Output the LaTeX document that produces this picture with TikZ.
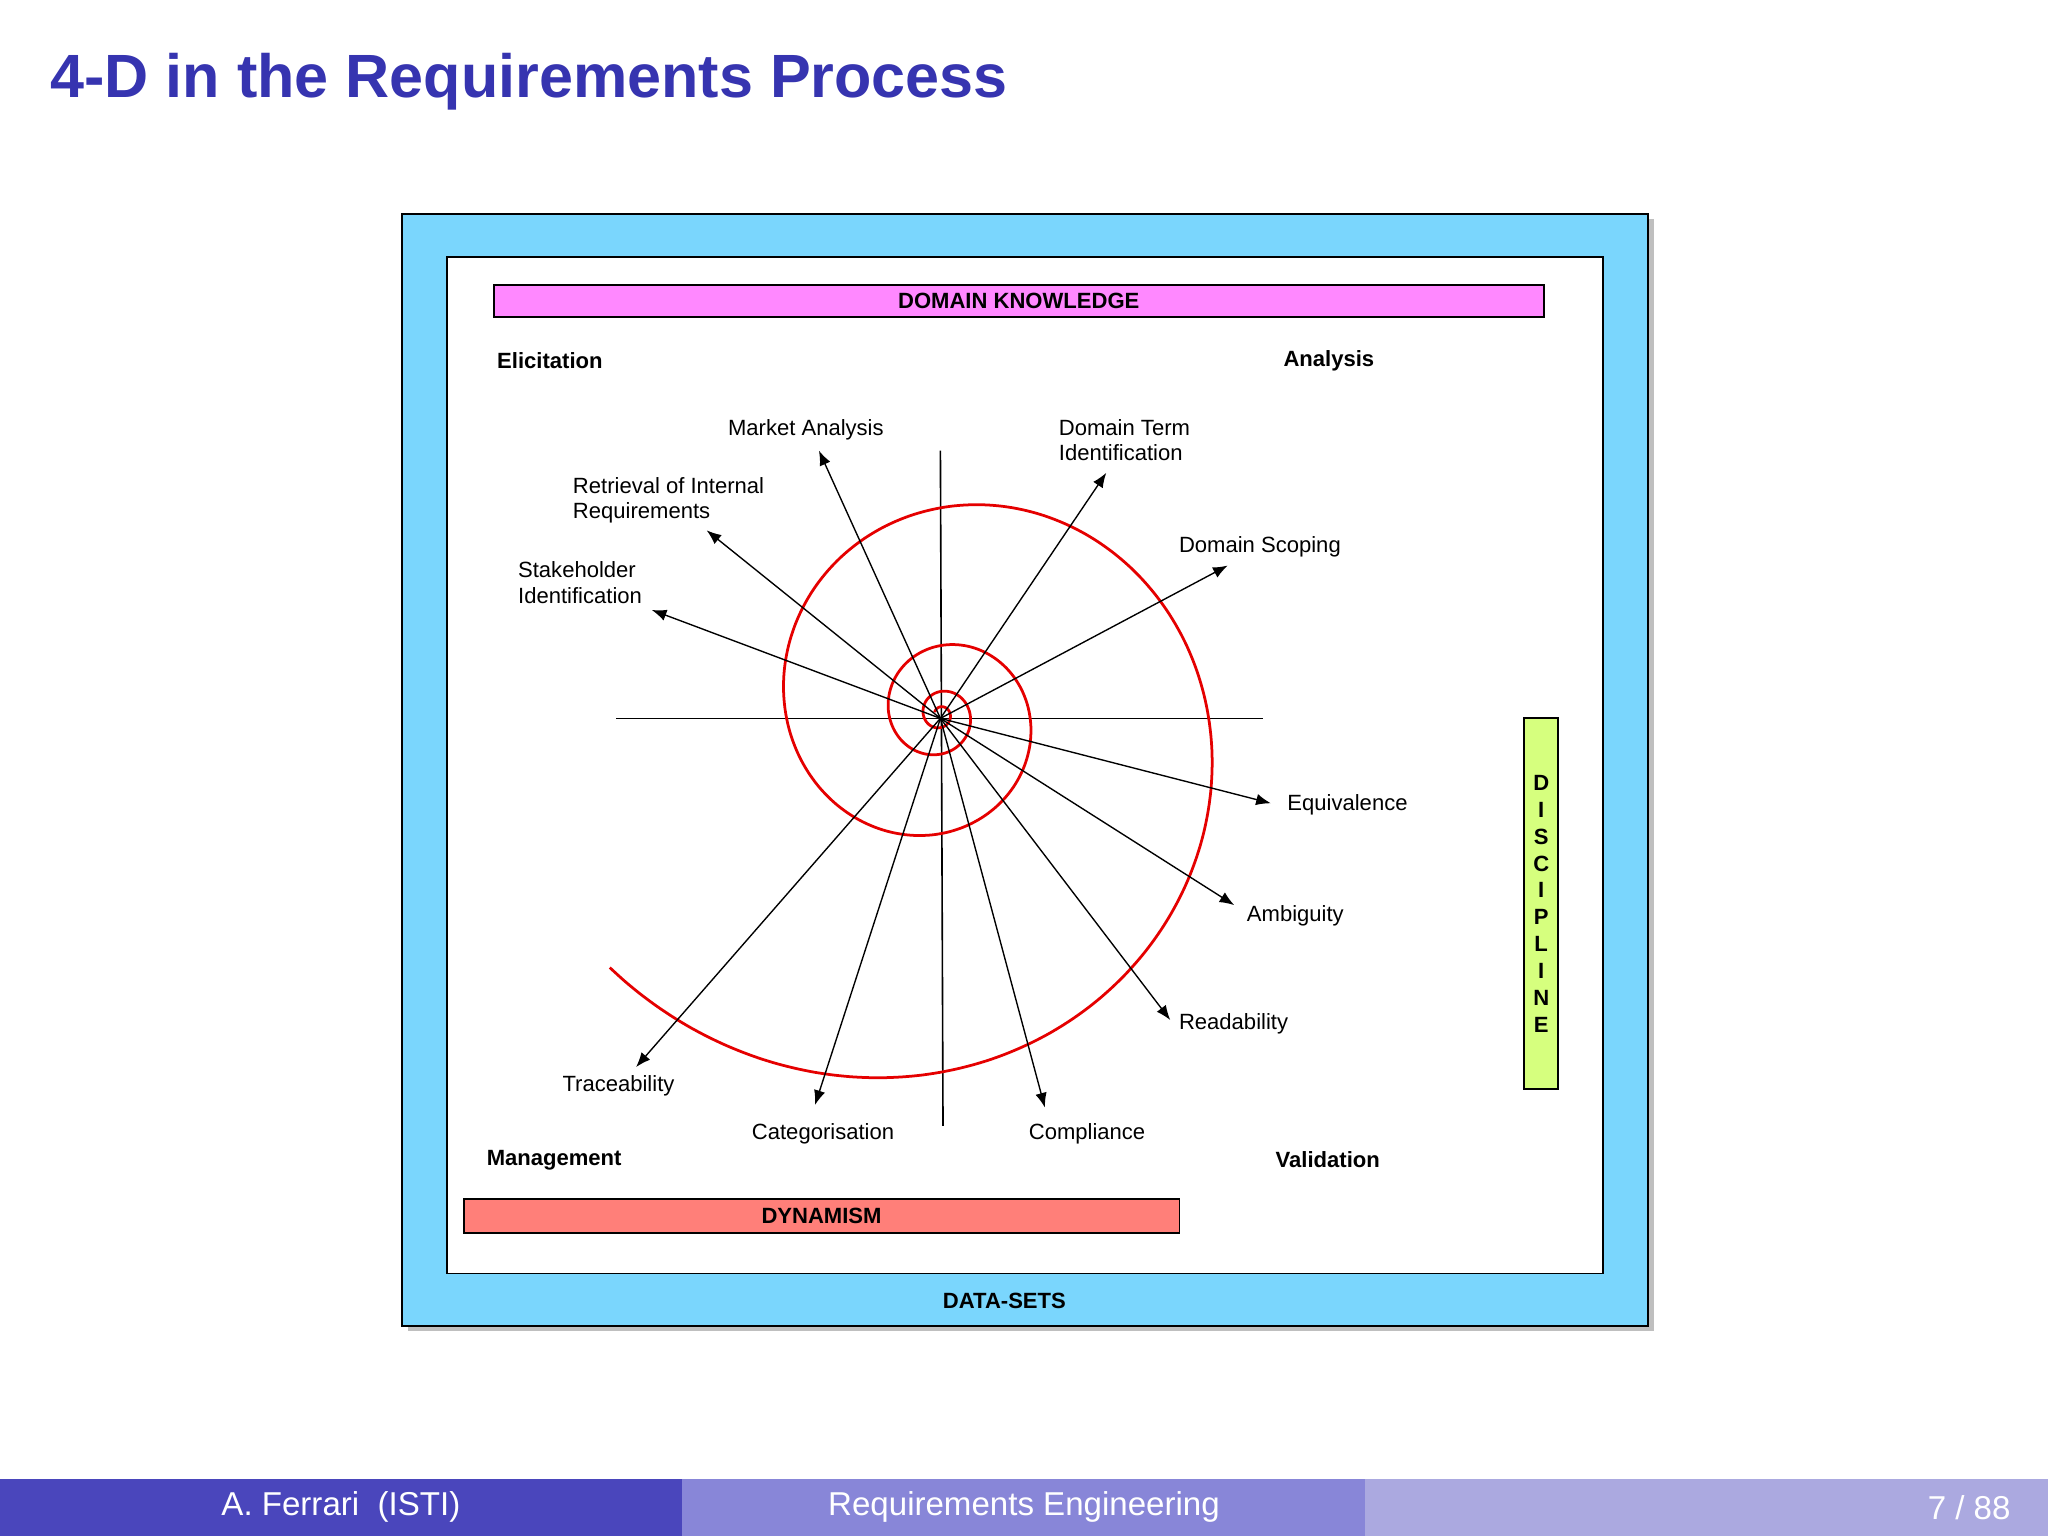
\documentclass[tikz,border=0pt]{standalone}
\usepackage{fontspec}
\setmainfont{Liberation Sans}
\usetikzlibrary{arrows.meta,shadows}
\definecolor{ttl}{HTML}{3634B0}
\definecolor{skyb}{HTML}{7AD6FD}
\definecolor{pinkb}{HTML}{FF88FF}
\definecolor{redb}{HTML}{FF7F79}
\definecolor{grnb}{HTML}{D6FF7E}
\definecolor{f1}{HTML}{4A46BC}
\definecolor{f2}{HTML}{8886D8}
\definecolor{f3}{HTML}{ABA9E0}
\tikzset{
 lbl/.style={font=\fontsize{4.8}{5.6}\selectfont, inner sep=0pt},
 blbl/.style={font=\fontsize{4.8}{5.6}\selectfont\bfseries, inner sep=0pt},
 arr/.style={-{Latex[length=3.2pt,width=2.5pt]}, line width=0.3pt},
 foot/.style={text=white,font=\fontsize{7.2}{8}\selectfont, inner sep=0pt}
}
\begin{document}
\begin{tikzpicture}[x=0.01cm,y=-0.01cm]
\useasboundingbox (0,0) rectangle (1568,1176);
\fill[white] (0,0) rectangle (1568,1176);
\node[anchor=base west,text=ttl,font=\fontsize{13.3}{15}\selectfont\bfseries,inner sep=0pt] (title) at (38,75) {4-D in the Requirements Process};
% boxes
\fill[black!25] (312,168) rectangle (1266,1019);
\draw[fill=skyb,line width=0.4pt] (308,164) rectangle (1262,1015);
\draw[fill=white,line width=0.4pt] (342,197) rectangle (1227,975);
\draw[fill=pinkb,line width=0.4pt] (378,218) rectangle node[blbl] (dk) {DOMAIN KNOWLEDGE} (1182,243);
\draw[fill=redb,line width=0.4pt] (355,918) rectangle node[blbl] (dy) {DYNAMISM} (903,944);
\draw[fill=grnb,line width=0.4pt] (1167,550) rectangle (1193,834);
\node[blbl,align=center,font=\fontsize{4.8}{5.85}\selectfont\bfseries] (dis) at (1180,692) {D\\I\\S\\C\\I\\P\\L\\I\\N\\E};
\node[blbl] (ds) at (769,996) {DATA-SETS};
\node[blbl,anchor=west] (el) at (380,276) {Elicitation};
\node[blbl,anchor=west] (an) at (982,276) {Analysis};
\node[blbl,anchor=west] (mg) at (372,888) {Management};
\node[blbl,anchor=west] (va) at (976,888) {Validation};
% axes
\coordinate (c) at (720,550);
\coordinate (hl) at (472,550); \coordinate (hr) at (967,550);
\coordinate (vt) at (720,345); \coordinate (vb) at (722,862);
\draw[line width=0.35pt] (hl) -- (hr);
\draw[line width=0.35pt] (vt) -- (vb);
% spiral
\draw[red!90!black,line width=0.6pt] plot[domain=217:1600,samples=500,smooth]
 ({720+317*exp(-0.00305*(\x-217))*cos(\x)},{547-322*exp(-0.00305*(\x-217))*sin(\x)});
% arrows
\foreach \n/\p in {ma/{627,345},dt/{847,362},ri/{541,406},si/{499,467},dsc/{940,433},eq/{973,615},am/{945,693},rd/{896,781},co/{800,848},ca/{624,846},tr/{487,817}}{
 \coordinate (t\n) at (\p);
 \draw[arr] (c) -- (t\n);
}
\node[lbl] (lma) at (617,329) {Market Analysis};
\node[lbl,anchor=west,align=left] (ldt) at (810,337) {Domain Term\\Identification};
\node[lbl,anchor=west,align=left] (lri) at (438,383) {Retrieval of Internal\\Requirements};
\node[lbl,anchor=west,align=left] (lsi) at (396,446) {Stakeholder\\Identification};
\node[lbl,anchor=west] (lds) at (902,419) {Domain Scoping};
\node[lbl,anchor=west] (leq) at (985,616) {Equivalence};
\node[lbl,anchor=west] (lam) at (954,701) {Ambiguity};
\node[lbl,anchor=west] (lrd) at (902,784) {Readability};
\node[lbl,anchor=west] (lco) at (787,868) {Compliance};
\node[lbl,anchor=west] (lca) at (575,868) {Categorisation};
\node[lbl,anchor=west] (ltr) at (430,831) {Traceability};
% footer
\fill[f1] (0,1132) rectangle (522,1176);
\fill[f2] (522,1132) rectangle (1045,1176);
\fill[f3] (1045,1132) rectangle (1568,1176);
\node[foot] (fa) at (261,1154) {A. Ferrari\ \ (ISTI)};
\node[foot] (fb) at (784,1154) {Requirements Engineering};
\node[foot,anchor=east] (fc) at (1540,1154) {7 / 88};
\end{tikzpicture}
\end{document}
